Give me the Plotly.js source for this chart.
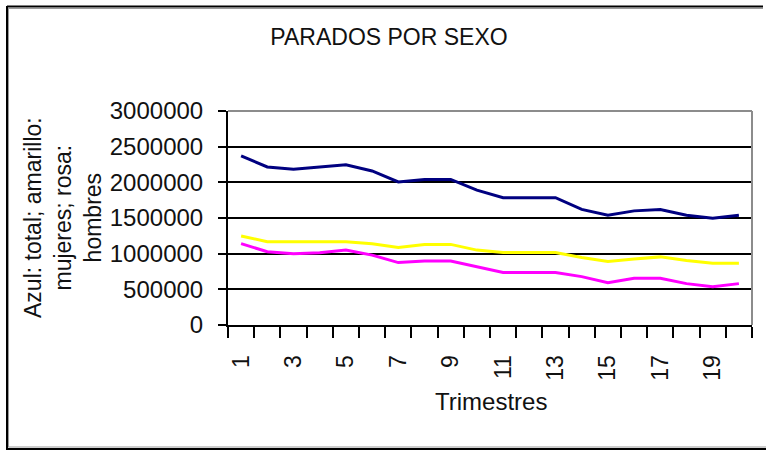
<!DOCTYPE html>
<html>
<head>
<meta charset="utf-8">
<script src="https://cdn.plot.ly/plotly-3.0.1.min.js"></script>
<style>html,body{margin:0;padding:0;background:#fff;}#chart{width:766px;height:451px;}</style>
</head>
<body>
<div id="chart"></div>
<script>
var trimestres = [1,2,3,4,5,6,7,8,9,10,11,12,13,14,15,16,17,18,19,20];
var total   = [2370000,2215000,2185000,2215000,2245000,2160000,2005000,2040000,2040000,1890000,1785000,1785000,1785000,1620000,1540000,1600000,1620000,1540000,1495000,1540000];
var mujeres = [1248000,1168000,1168000,1168000,1168000,1140000,1085000,1130000,1130000,1050000,1015000,1015000,1015000,945000,890000,925000,955000,905000,865000,865000];
var hombres = [1140000,1028000,1000000,1014000,1050000,980000,875000,897000,897000,818000,735000,735000,735000,678000,593000,654000,654000,580000,537000,580000];
var tituloGrafico = 'PARADOS POR SEXO';
var tituloX = 'Trimestres';
var tituloY = 'Azul: total; amarillo:<br>mujeres; rosa:<br>hombres';

var FONT = 'Liberation Sans, Arial, sans-serif';
var L = 228, R = 14, T = 111, B = 126, W = 766, H = 451;
var pw = W - L - R, ph = H - T - B;
function px(x){ return (x - L) / pw; }
function py(y){ return (H - B - y) / ph; }

var traces = [
  {x: trimestres, y: total, type: 'scatter', mode: 'lines', line: {color: '#000080', width: 3}, hoverinfo: 'none'},
  {x: trimestres, y: mujeres, type: 'scatter', mode: 'lines', line: {color: '#FFFF00', width: 3}, hoverinfo: 'none'},
  {x: trimestres, y: hombres, type: 'scatter', mode: 'lines', line: {color: '#FF00FF', width: 3}, hoverinfo: 'none'}
];

var layout = {
  width: W, height: H,
  margin: {l: L, r: R, t: T, b: B, pad: 0},
  paper_bgcolor: '#ffffff', plot_bgcolor: '#ffffff',
  showlegend: false,
  font: {family: FONT, size: 23, color: '#111111'},
  title: {text: tituloGrafico, font: {family: FONT, size: 23, color: '#111111'},
          xref: 'container', x: 389 / W, xanchor: 'center',
          yref: 'container', y: 1 - 37 / H, yanchor: 'middle'},
  xaxis: {
    type: 'linear', range: [0.5, 20.5], fixedrange: true,
    tickmode: 'linear', tick0: 1, dtick: 2, ticks: '',
    tickangle: -90, ticklabelstandoff: 19,
    tickfont: {family: FONT, size: 23, color: '#111111'},
    showgrid: false, zeroline: false,
    showline: true, linecolor: '#000000', linewidth: 2,
    minor: {tickmode: 'linear', tick0: 0.5, dtick: 1, ticks: 'outside', ticklen: 11, tickwidth: 2, tickcolor: '#000000', showgrid: false}
  },
  yaxis: {
    range: [0, 3000000], fixedrange: true,
    tickmode: 'linear', tick0: 0, dtick: 500000, tickformat: 'd',
    ticks: 'outside', ticklen: 8, tickwidth: 2, tickcolor: '#000000',
    ticklabelstandoff: 10,
    tickfont: {family: FONT, size: 24, color: '#111111'},
    showgrid: true, gridcolor: '#000000', gridwidth: 2,
    zeroline: false,
    showline: true, linecolor: '#000000', linewidth: 2
  },
  annotations: [
    {text: tituloY, textangle: -90, xref: 'paper', yref: 'paper',
     x: px(63), y: 0.5, xanchor: 'center', yanchor: 'middle', showarrow: false,
     align: 'center', font: {family: FONT, size: 23, color: '#111111'}},
    {text: tituloX, xref: 'paper', yref: 'paper', x: px(491), y: py(401),
     xanchor: 'center', yanchor: 'middle', showarrow: false,
     font: {family: FONT, size: 24, color: '#111111'}}
  ],
  shapes: [
    {type: 'line', xref: 'paper', yref: 'paper', x0: 0, x1: 1, y0: 1, y1: 1, layer: 'above', line: {color: '#8c8c8c', width: 2}},
    {type: 'line', xref: 'paper', yref: 'paper', x0: 1, x1: 1, y0: 0, y1: 1, layer: 'above', line: {color: '#8c8c8c', width: 2}},
    {type: 'line', xref: 'paper', yref: 'paper', x0: px(7), x1: px(763), y0: py(6.5), y1: py(6.5), layer: 'above', line: {color: '#000000', width: 2}},
    {type: 'line', xref: 'paper', yref: 'paper', x0: px(8), x1: px(763), y0: py(8.5), y1: py(8.5), layer: 'above', line: {color: '#9a9a9a', width: 1}},
    {type: 'line', xref: 'paper', yref: 'paper', x0: px(7), x1: px(7), y0: py(6), y1: py(450), layer: 'above', line: {color: '#000000', width: 2}},
    {type: 'line', xref: 'paper', yref: 'paper', x0: px(8.5), x1: px(8.5), y0: py(8), y1: py(447), layer: 'above', line: {color: '#9a9a9a', width: 1}},
    {type: 'line', xref: 'paper', yref: 'paper', x0: px(6), x1: px(766), y0: py(449), y1: py(449), layer: 'above', line: {color: '#000000', width: 2}},
    {type: 'line', xref: 'paper', yref: 'paper', x0: px(8), x1: px(766), y0: py(447), y1: py(447), layer: 'above', line: {color: '#9a9a9a', width: 1}}
  ]
};

Plotly.newPlot('chart', traces, layout, {staticPlot: true, displayModeBar: false});
</script>
</body>
</html>
